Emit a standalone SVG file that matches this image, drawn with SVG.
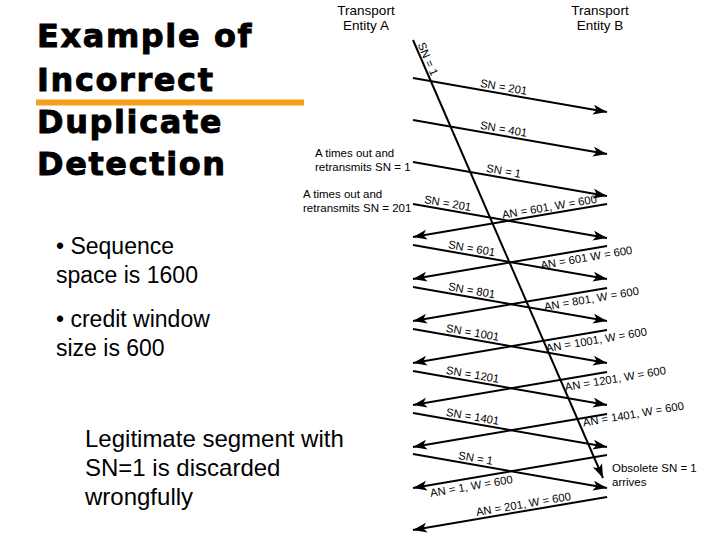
<svg xmlns="http://www.w3.org/2000/svg" width="720" height="540" viewBox="0 0 720 540">
<defs>
<marker id="ah" markerUnits="userSpaceOnUse" markerWidth="15" markerHeight="11" refX="14" refY="5" orient="auto">
<path d="M0,0 L14,5 L0,10 L3.5,5 Z" fill="#000"/>
</marker>
<style>
.title{font-family:"DejaVu Sans",sans-serif;font-weight:bold;font-size:32px;letter-spacing:1.6px;fill:#000;stroke:#000;stroke-width:0.9px}
.body{font-family:"Liberation Sans",Arial,sans-serif;font-size:23px;fill:#000}
.big{font-family:"Liberation Sans",Arial,sans-serif;font-size:24px;fill:#000}
.hdr{font-family:"Liberation Sans",Arial,sans-serif;font-size:13.5px;fill:#000;text-anchor:middle}
.note{font-family:"Liberation Sans",Arial,sans-serif;font-size:11.5px;fill:#000}
.lbl{font-family:"Liberation Sans",Arial,sans-serif;font-size:11.3px;fill:#000;text-anchor:middle}
.ln{stroke:#000;stroke-width:2;fill:none;marker-end:url(#ah)}
</style>
</defs>
<rect width="720" height="540" fill="#fff"/>
<g id="title">
<text class="title" x="37" y="47">Example of</text>
<text class="title" x="37" y="90.5">Incorrect</text>
<text class="title" x="37" y="133">Duplicate</text>
<text class="title" x="37" y="175">Detection</text>
<rect x="36" y="99.5" width="268" height="6" fill="#F5A01A"/>
</g>
<g id="bullets">
<text class="body" x="56" y="254">• Sequence</text>
<text class="body" x="56" y="283">space is 1600</text>
<text class="body" x="56" y="326.5">• credit window</text>
<text class="body" x="56" y="355.5">size is 600</text>
<text class="big" x="85" y="447">Legitimate segment with</text>
<text class="big" x="85" y="476">SN=1 is discarded</text>
<text class="big" x="85" y="505">wrongfully</text>
</g>
<g id="entityA">
<text class="hdr" x="366" y="14.5">Transport</text>
<text class="hdr" x="366" y="30">Entity A</text>
</g>
<g id="entityB">
<text class="hdr" x="600" y="14.5">Transport</text>
<text class="hdr" x="600" y="30">Entity B</text>
</g>
<g id="notes">
<text class="note" x="315" y="157">A times out and</text>
<text class="note" x="315" y="171">retransmits SN = 1</text>
<text class="note" x="303" y="198">A times out and</text>
<text class="note" x="303" y="212">retransmits SN = 201</text>
<text class="note" x="612" y="472">Obsolete SN = 1</text>
<text class="note" x="612" y="486">arrives</text>
</g>
<g id="connectors">
<line class="ln" x1="413" y1="40" x2="603" y2="478"/>
<line class="ln" x1="413" y1="78" x2="607" y2="112"/>
<line class="ln" x1="413" y1="120" x2="607" y2="154"/>
<line class="ln" x1="413" y1="162" x2="607" y2="196"/>
<line class="ln" x1="413" y1="204" x2="607" y2="238"/>
<line class="ln" x1="413" y1="245" x2="607" y2="279"/>
<line class="ln" x1="413" y1="287" x2="607" y2="321"/>
<line class="ln" x1="413" y1="329" x2="607" y2="363"/>
<line class="ln" x1="413" y1="371" x2="607" y2="405"/>
<line class="ln" x1="413" y1="413" x2="607" y2="447"/>
<line class="ln" x1="413" y1="454" x2="607" y2="488"/>
<line class="ln" x1="607" y1="204" x2="413" y2="237"/>
<line class="ln" x1="607" y1="246" x2="413" y2="279"/>
<line class="ln" x1="607" y1="288" x2="413" y2="321"/>
<line class="ln" x1="607" y1="330" x2="413" y2="363"/>
<line class="ln" x1="607" y1="372" x2="413" y2="405"/>
<line class="ln" x1="607" y1="414" x2="413" y2="447"/>
<line class="ln" x1="607" y1="455" x2="413" y2="488"/>
<line class="ln" x1="607" y1="497" x2="413" y2="530"/>
</g>
<g id="labels">
<text class="lbl" transform="translate(424.3,60.6) rotate(66.6)">SN = 1</text>
<text class="lbl" transform="translate(503,90.8) rotate(9.94)">SN = 201</text>
<text class="lbl" transform="translate(503,132.8) rotate(9.94)">SN = 401</text>
<text class="lbl" transform="translate(503,174.8) rotate(9.94)">SN = 1</text>
<text class="lbl" transform="translate(447,207) rotate(9.94)">SN = 201</text>
<text class="lbl" transform="translate(471,252.2) rotate(9.94)">SN = 601</text>
<text class="lbl" transform="translate(471,294.2) rotate(9.94)">SN = 801</text>
<text class="lbl" transform="translate(472,336.3) rotate(9.94)">SN = 1001</text>
<text class="lbl" transform="translate(472,378.3) rotate(9.94)">SN = 1201</text>
<text class="lbl" transform="translate(472,420.3) rotate(9.94)">SN = 1401</text>
<text class="lbl" transform="translate(475,461.9) rotate(9.94)">SN = 1</text>
<text class="lbl" transform="translate(550,210.7) rotate(-9.65)">AN = 601, W = 600</text>
<text class="lbl" transform="translate(587,261.4) rotate(-9.65)">AN = 601  W = 600</text>
<text class="lbl" transform="translate(592,302.6) rotate(-9.65)">AN = 801, W = 600</text>
<text class="lbl" transform="translate(597,343.7) rotate(-9.65)">AN = 1001, W = 600</text>
<text class="lbl" transform="translate(616,382.5) rotate(-9.65)">AN = 1201, W = 600</text>
<text class="lbl" transform="translate(634,418) rotate(-9.65)">AN = 1401, W = 600</text>
<text class="lbl" transform="translate(472,490) rotate(-9.65)">AN = 1, W = 600</text>
<text class="lbl" transform="translate(524,508) rotate(-9.65)">AN = 201, W = 600</text>
</g>
</svg>
